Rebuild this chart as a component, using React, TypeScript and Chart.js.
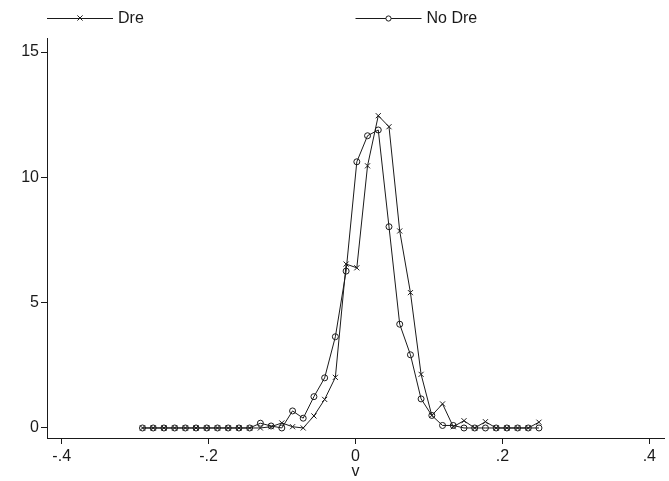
import React, { useEffect, useRef } from "react";
import { Chart, registerables } from "chart.js";

Chart.register(...registerables);

// x grid of the density estimate (v)
const xValues = [
  -0.29, -0.2754, -0.2608, -0.2462, -0.2316, -0.2171, -0.2025, -0.1879, -0.1733, -0.1587,
  -0.1441, -0.1295, -0.1149, -0.1003, -0.0857, -0.0712, -0.0566, -0.042, -0.0274, -0.0128,
  0.0018, 0.0164, 0.031, 0.0456, 0.0602, 0.0748, 0.0893, 0.1039, 0.1185, 0.1331,
  0.1477, 0.1623, 0.1769, 0.1915, 0.2061, 0.2207, 0.2352, 0.2498,
];

const dreValues = [
  0, 0, 0, 0, 0, 0, 0, 0, 0, 0,
  0, 0, 0.05, 0.2, 0.05, 0, 0.48, 1.14, 2.02, 6.54,
  6.39, 10.46, 12.46, 12.02, 7.86, 5.4, 2.14, 0.5, 0.96, 0.05,
  0.29, 0, 0.25, 0, 0, 0, 0, 0.23,
];

const noDreValues = [
  0, 0, 0, 0, 0, 0, 0, 0, 0, 0,
  0, 0.19, 0.08, 0.0, 0.68, 0.39, 1.25, 2.0, 3.64, 6.26,
  10.62, 11.66, 11.89, 8.03, 4.14, 2.92, 1.16, 0.5, 0.1, 0.1,
  0, 0, 0, 0, 0, 0, 0, 0,
];

const seriesLabels = ["Dre", "No Dre"];
const xTicks = [-0.4, -0.2, 0, 0.2, 0.4];
const xTickLabels = ["-.4", "-.2", "0", ".2", ".4"];
const yTicks = [0, 5, 10, 15];
const yTickLabels = ["0", "5", "10", "15"];
const xTitle = "v";

const FONT = "'Liberation Sans', Arial, Helvetica, sans-serif";
const FONT_SIZE = 16;
const INK = "#1a1a1a";

const legendPlugin = {
  id: "stataLegend",
  afterDraw(chart: any) {
    const { ctx, chartArea } = chart;
    const y = 18;
    const cols = [chartArea.left, (chartArea.left + chartArea.right) / 2];
    ctx.save();
    ctx.font = `${FONT_SIZE}px ${FONT}`;
    ctx.fillStyle = INK;
    ctx.strokeStyle = INK;
    ctx.lineWidth = 1;
    ctx.textBaseline = "middle";
    chart.data.datasets.forEach((ds: any, i: number) => {
      const x0 = cols[i];
      const len = 66;
      ctx.beginPath();
      ctx.moveTo(x0, y + 0.5);
      ctx.lineTo(x0 + len, y + 0.5);
      ctx.stroke();
      const mx = x0 + len / 2;
      if (ds.pointStyle === "crossRot") {
        const r = 2.6;
        ctx.beginPath();
        ctx.moveTo(mx - r, y - r);
        ctx.lineTo(mx + r, y + r);
        ctx.moveTo(mx + r, y - r);
        ctx.lineTo(mx - r, y + r);
        ctx.stroke();
      } else {
        ctx.beginPath();
        ctx.arc(mx, y + 0.5, 2.6, 0, Math.PI * 2);
        ctx.fillStyle = "#fff";
        ctx.fill();
        ctx.stroke();
        ctx.fillStyle = INK;
      }
      ctx.textAlign = "left";
      ctx.fillText(ds.label, x0 + len + 5, y + 1);
    });
    ctx.restore();
  },
};

export default function App() {
  const ref = useRef<HTMLCanvasElement | null>(null);

  useEffect(() => {
    if (!ref.current) return;
    const chart = new Chart(ref.current, {
      type: "line",
      data: {
        datasets: [
          {
            label: seriesLabels[0],
            data: xValues.map((x, i) => ({ x, y: dreValues[i] })),
            borderColor: INK,
            borderWidth: 1,
            pointStyle: "crossRot",
            pointRadius: 3.6,
            pointBorderWidth: 1,
            pointBorderColor: INK,
            pointBackgroundColor: "rgba(0,0,0,0)",
            tension: 0,
            fill: false,
          },
          {
            label: seriesLabels[1],
            data: xValues.map((x, i) => ({ x, y: noDreValues[i] })),
            borderColor: INK,
            borderWidth: 1,
            pointStyle: "circle",
            pointRadius: 3,
            pointBorderWidth: 1,
            pointBorderColor: INK,
            pointBackgroundColor: "rgba(0,0,0,0)",
            tension: 0,
            fill: false,
          },
        ],
      } as any,
      options: {
        animation: false,
        responsive: false,
        maintainAspectRatio: false,
        devicePixelRatio: 1,
        layout: { padding: { top: 38, right: 1, left: 0, bottom: 0 } },
        plugins: {
          legend: { display: false },
          tooltip: { enabled: false },
        },
        scales: {
          x: {
            type: "linear",
            position: "bottom",
            min: -0.42,
            max: 0.42,
            afterBuildTicks: (s: any) => {
              s.ticks = xTicks.map((v) => ({ value: v }));
            },
            afterFit: (s: any) => {
              s.height = 43;
            },
            grid: {
              display: true,
              drawOnChartArea: false,
              drawTicks: true,
              tickLength: 6,
              color: INK,
            },
            border: { display: true, color: INK, width: 1 },
            ticks: {
              autoSkip: false,
              maxRotation: 0,
              padding: 3,
              color: INK,
              font: { family: FONT, size: FONT_SIZE },
              callback: (v: any) => {
                const i = xTicks.findIndex((t) => Math.abs(t - Number(v)) < 1e-9);
                return i >= 0 ? xTickLabels[i] : "";
              },
            },
            title: {
              display: true,
              text: xTitle,
              color: INK,
              font: { family: FONT, size: FONT_SIZE },
              padding: { top: 0, bottom: 0 },
            },
          },
          y: {
            type: "linear",
            position: "left",
            min: -0.4,
            max: 15.56,
            afterBuildTicks: (s: any) => {
              s.ticks = yTicks.map((v) => ({ value: v }));
            },
            afterFit: (s: any) => {
              s.width = 47;
            },
            grid: {
              display: true,
              drawOnChartArea: false,
              drawTicks: true,
              tickLength: 6,
              color: INK,
            },
            border: { display: true, color: INK, width: 1 },
            ticks: {
              autoSkip: false,
              padding: 2,
              color: INK,
              font: { family: FONT, size: FONT_SIZE },
              callback: (v: any) => {
                const i = yTicks.findIndex((t) => Math.abs(t - Number(v)) < 1e-9);
                return i >= 0 ? yTickLabels[i] : "";
              },
            },
          },
        },
      } as any,
      plugins: [legendPlugin],
    });
    return () => chart.destroy();
  }, []);

  return (
    <div style={{ position: "absolute", left: 0, top: 0, width: 669, height: 481, background: "#fff" }}>
      <canvas ref={ref} width={669} height={481} style={{ display: "block", width: 669, height: 481 }} />
    </div>
  );
}
